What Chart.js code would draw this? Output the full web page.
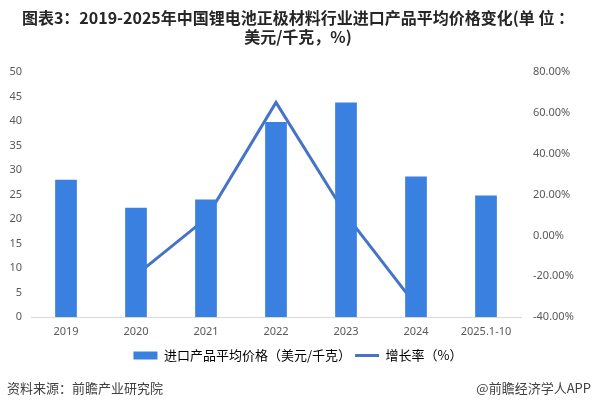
<!DOCTYPE html>
<html>
<head>
<meta charset="utf-8">
<script src="https://cdn.jsdelivr.net/npm/chart.js@4.4.1/dist/chart.umd.min.js"></script>
<style>
  html, body { margin: 0; padding: 0; background: #fff; }
  #wrap { position: relative; width: 596px; height: 407px; }
  #chart { position: absolute; left: 0; top: 0; }
  .foot { position: absolute; top: 378px; font: 13px "Noto Sans CJK SC", sans-serif; color: #404040; white-space: nowrap; }
</style>
</head>
<body>
<div id="wrap">
  <canvas id="chart" width="596" height="407"></canvas>
  <div class="foot" style="left:7px">资料来源：前瞻产业研究院</div>
  <div class="foot" style="right:5px">@前瞻经济学人APP</div>
</div>
<script>
const categories = ["2019", "2020", "2021", "2022", "2023", "2024", "2025.1-10"];
const avgPrice = [28.0, 22.3, 24.0, 39.8, 43.8, 28.7, 24.8];
const growthRate = [null, -19.5, 8.2, 65.1, 10.0, -34.3, null];
const titleLines = [
  "图表3：2019-2025年中国锂电池正极材料行业进口产品平均价格变化(单 位 ：",
  "美元/千克，%)",
];
const seriesNames = ["进口产品平均价格（美元/千克）", "增长率（%）"];

const barColor = "#3a80e0";
const lineColor = "#4673c6";
const tickColor = "#595959";
const cjkFont = '"Noto Sans CJK SC", sans-serif';

function formatPercent(value) {
  return `${Number(value).toFixed(2)}%`;
}

new Chart(document.getElementById("chart"), {
  data: {
    labels: categories,
    datasets: [
      {
        type: "bar",
        label: seriesNames[0],
        data: avgPrice,
        backgroundColor: barColor,
        yAxisID: "y",
        order: 0,
        barPercentage: 0.31,
        categoryPercentage: 1,
      },
      {
        type: "line",
        label: seriesNames[1],
        data: growthRate,
        borderColor: lineColor,
        borderWidth: 3,
        pointRadius: 0,
        tension: 0,
        spanGaps: false,
        yAxisID: "y1",
        order: 1,
      },
    ],
  },
  options: {
    responsive: false,
    animation: false,
    layout: { padding: { left: 0, right: 0, top: 0, bottom: 35 } },
    plugins: {
      title: {
        display: true,
        text: titleLines,
        color: "#262626",
        font: { family: cjkFont, size: 16, weight: "bold", lineHeight: 1.19 },
        padding: { top: 8, bottom: 26 },
      },
      legend: {
        position: "bottom",
        labels: {
          color: "#404040",
          font: { family: cjkFont, size: 13 },
          usePointStyle: true,
          pointStyleWidth: 24,
          boxHeight: 8,
          padding: 4,
          generateLabels: (chart) =>
            chart.data.datasets.map((ds, i) => ({
              text: ds.label,
              fillStyle: ds.type === "bar" ? barColor : lineColor,
              strokeStyle: ds.type === "bar" ? barColor : lineColor,
              lineWidth: ds.type === "bar" ? 0 : 3,
              pointStyle: ds.type === "bar" ? "rect" : "line",
              datasetIndex: i,
              hidden: false,
            })),
        },
      },
      tooltip: { enabled: false },
    },
    scales: {
      x: {
        grid: { display: false, drawTicks: false },
        border: { display: true, color: "#d9d9d9", width: 1 },
        ticks: { color: tickColor, font: { size: 11, family: "Noto Sans" }, padding: 8 },
        afterFit: (scale) => { scale.height = 28; },
      },
      y: {
        position: "left",
        min: 0,
        max: 50,
        grid: { display: false, drawTicks: false },
        border: { display: false },
        ticks: { stepSize: 5, color: tickColor, font: { size: 11, family: "Noto Sans" }, padding: 9 },
        afterFit: (scale) => { scale.width = 31; },
      },
      y1: {
        position: "right",
        min: -40,
        max: 80,
        grid: { display: false, drawTicks: false },
        border: { display: false },
        ticks: {
          stepSize: 20,
          color: tickColor,
          font: { size: 11, family: "Noto Sans" },
          padding: 12,
          callback: (value) => formatPercent(value),
        },
        afterFit: (scale) => { scale.width = 75; },
      },
    },
  },
});
</script>
</body>
</html>
